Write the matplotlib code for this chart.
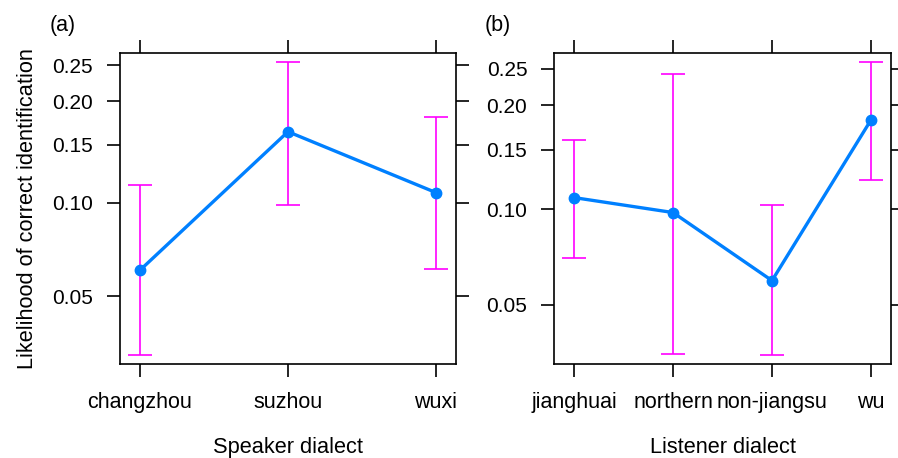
import numpy as np
import matplotlib
matplotlib.use("Agg")
import matplotlib.pyplot as plt
from matplotlib.ticker import FixedLocator, FixedFormatter, NullLocator

plt.rcParams['font.family'] = ['Liberation Sans', 'DejaVu Sans']

# panel (a): speaker dialect
spk_cats = ["changzhou", "suzhou", "wuxi"]
spk_fit = [0.0608, 0.1637, 0.1074]
spk_lo = [0.0318, 0.0983, 0.0613]
spk_hi = [0.1134, 0.2549, 0.180]

# panel (b): listener dialect
lis_cats = ["jianghuai", "northern", "non-jiangsu", "wu"]
lis_fit = [0.1084, 0.0976, 0.0597, 0.1824]
lis_lo = [0.0707, 0.0346, 0.0342, 0.1225]
lis_hi = [0.1603, 0.2427, 0.1027, 0.2604]

yticks = [0.05, 0.10, 0.15, 0.20, 0.25]
ytick_labels = ["0.05", "0.10", "0.15", "0.20", "0.25"]

blue = "#0080FF"
magenta = "#FF00FF"

fig = plt.figure(figsize=(8.98, 4.58), dpi=100)
ax_a = fig.add_axes([0.1336, 0.2052, 0.3742, 0.679])
ax_b = fig.add_axes([0.6173, 0.2052, 0.3746, 0.679])


def panel(ax, cats, fit, lo, hi, ylim, xpad, xlabel, tag):
    x = np.arange(len(cats))
    fit = np.array(fit)
    yerr = [fit - np.array(lo), np.array(hi) - fit]
    ax.set_yscale("logit")
    ax.errorbar(x, fit, yerr=yerr, fmt="none", ecolor=magenta,
                elinewidth=1.2, capsize=8.3, capthick=1.2, zorder=2)
    ax.plot(x, fit, "-o", color=blue, lw=2.4, ms=7.5, zorder=3)
    ax.set_ylim(*ylim)
    ax.set_xlim(-xpad, len(cats) - 1 + xpad)
    ax.yaxis.set_major_locator(FixedLocator(yticks))
    ax.yaxis.set_major_formatter(FixedFormatter(ytick_labels))
    ax.yaxis.set_minor_locator(NullLocator())
    ax.set_xticks(x)
    ax.set_xticklabels(cats)
    ax.tick_params(direction="out", length=9.5, width=1.2,
                   top=True, right=True, labeltop=False, labelright=False)
    ax.tick_params(axis="x", pad=11, labelsize=15.5)
    ax.tick_params(axis="y", pad=10, labelsize=15)
    for s in ax.spines.values():
        s.set_linewidth(1.2)
    ax.set_xlabel(xlabel, fontsize=15.7, labelpad=17)
    ax.text(-0.208, 1.09, tag, transform=ax.transAxes, fontsize=15.5,
            ha="left", va="center")


panel(ax_a, spk_cats, spk_fit, spk_lo, spk_hi, (0.0297, 0.2684), 0.135,
      "Speaker dialect", "(a)")
panel(ax_b, lis_cats, lis_fit, lis_lo, lis_hi, (0.0320, 0.2737), 0.2,
      "Listener dialect", "(b)")
ax_a.set_ylabel("Likelihood of correct identification", fontsize=15.7, labelpad=10)

fig.savefig("out.png", dpi=100)
